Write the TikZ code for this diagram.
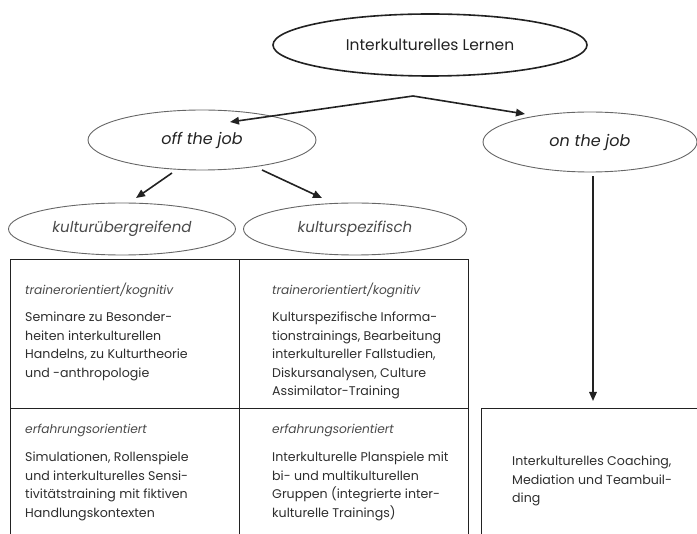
\documentclass[tikz,border=0pt]{standalone}
\usepackage{fontspec}
\setmainfont{Poppins}
\usetikzlibrary{shapes.geometric,arrows.meta}
\definecolor{ink}{HTML}{222222}
\definecolor{txt}{HTML}{2E2E2E}
\definecolor{hdr}{HTML}{4A4A4A}
\definecolor{ellline}{HTML}{666666}
\begin{document}
\begin{tikzpicture}[x=1pt,y=-1pt,
  topell/.style={ellipse, draw=ink, line width=1.6pt, inner sep=0pt, text=ink, font=\fontsize{15.5}{17}\selectfont},
  ell/.style={ellipse, draw=ellline, line width=0.9pt, inner sep=0pt, text=ink, font=\itshape\fontsize{16}{18}\selectfont},
  ellg/.style={ell, text=hdr, font=\itshape\fontsize{15}{17}\selectfont},
  arr/.style={draw=ink, line width=1.6pt, -{Triangle[length=9pt,width=7.5pt]}},
  cellbox/.style={draw=ink, line width=1.3pt, rectangle, inner sep=0pt, anchor=north west},
  hdrtxt/.style={anchor=north west, inner sep=0pt, text=hdr, font=\itshape\fontsize{12.2}{18.5}\selectfont},
  bodytxt/.style={anchor=north west, inner sep=0pt, text=txt, align=left, font=\fontsize{12.6}{18.5}\selectfont}]
\useasboundingbox (0,0) rectangle (697,534);
\clip (0,0) rectangle (697,534);
% table cells
\node[cellbox, minimum width=229pt, minimum height=149pt] (c11) at (10,259) {};
\node[cellbox, minimum width=229pt, minimum height=149pt] (c12) at (239,259) {};
\node[cellbox, minimum width=229pt, minimum height=160pt] (c21) at (10,408) {};
\node[cellbox, minimum width=229pt, minimum height=160pt] (c22) at (239,408) {};
\node[cellbox, minimum width=260pt, minimum height=160pt] (coach) at (481,408) {};
% ellipses
\node[topell, minimum width=314pt, minimum height=62pt] (top) at (430,45) {Interkulturelles Lernen};
\node[ell, minimum width=228pt, minimum height=60pt] (off) at (202,140) {off the job};
\node[ell, minimum width=214pt, minimum height=60pt] (on) at (590,142) {on the job};
\node[ellg, minimum width=227pt, minimum height=52pt] (kue) at (122,229) {kulturübergreifend};
\node[ellg, minimum width=223pt, minimum height=52pt] (ksp) at (355,229) {kulturspezifisch};
% arrows
\coordinate (split) at (413,96);
\coordinate (offend) at (230,122);
\coordinate (onend) at (525,114);
\coordinate (o1) at (172,173);
\coordinate (o1e) at (136,198);
\coordinate (o2) at (262,170);
\coordinate (o2e) at (322,198);
\draw[arr] (split) -- (offend);
\draw[arr] (split) -- (onend);
\draw[arr] (o1) -- (o1e);
\draw[arr] (o2) -- (o2e);
\draw[arr, shorten <=4pt, shorten >=7pt] (on.south -| 593,0) -- (coach.north -| 593,0);
% cell texts
\node[hdrtxt] (h11) at (25,283) {trainerorientiert/kognitiv};
\node[bodytxt] (b11) at (25,312) {Seminare zu Besonder-\\heiten interkulturellen\\Handelns, zu Kulturtheorie\\und -anthropologie};
\node[hdrtxt] (h12) at (272,283) {trainerorientiert/kognitiv};
\node[bodytxt] (b12) at (272,312) {Kulturspezifische Informa-\\tionstrainings, Bearbeitung\\interkultureller Fallstudien,\\Diskursanalysen, Culture\\Assimilator-Training};
\node[hdrtxt] (h21) at (25,424) {erfahrungsorientiert};
\node[bodytxt] (b21) at (25,452) {Simulationen, Rollenspiele\\und interkulturelles Sensi-\\tivitätstraining mit fiktiven\\Handlungskontexten};
\node[hdrtxt] (h22) at (272,424) {erfahrungsorientiert};
\node[bodytxt] (b22) at (272,452) {Interkulturelle Planspiele mit\\bi- und multikulturellen\\Gruppen (integrierte inter-\\kulturelle Trainings)};
\node[bodytxt] (bc) at (512,456) {Interkulturelles Coaching,\\Mediation und Teambuil-\\ding};
\end{tikzpicture}
\end{document}
